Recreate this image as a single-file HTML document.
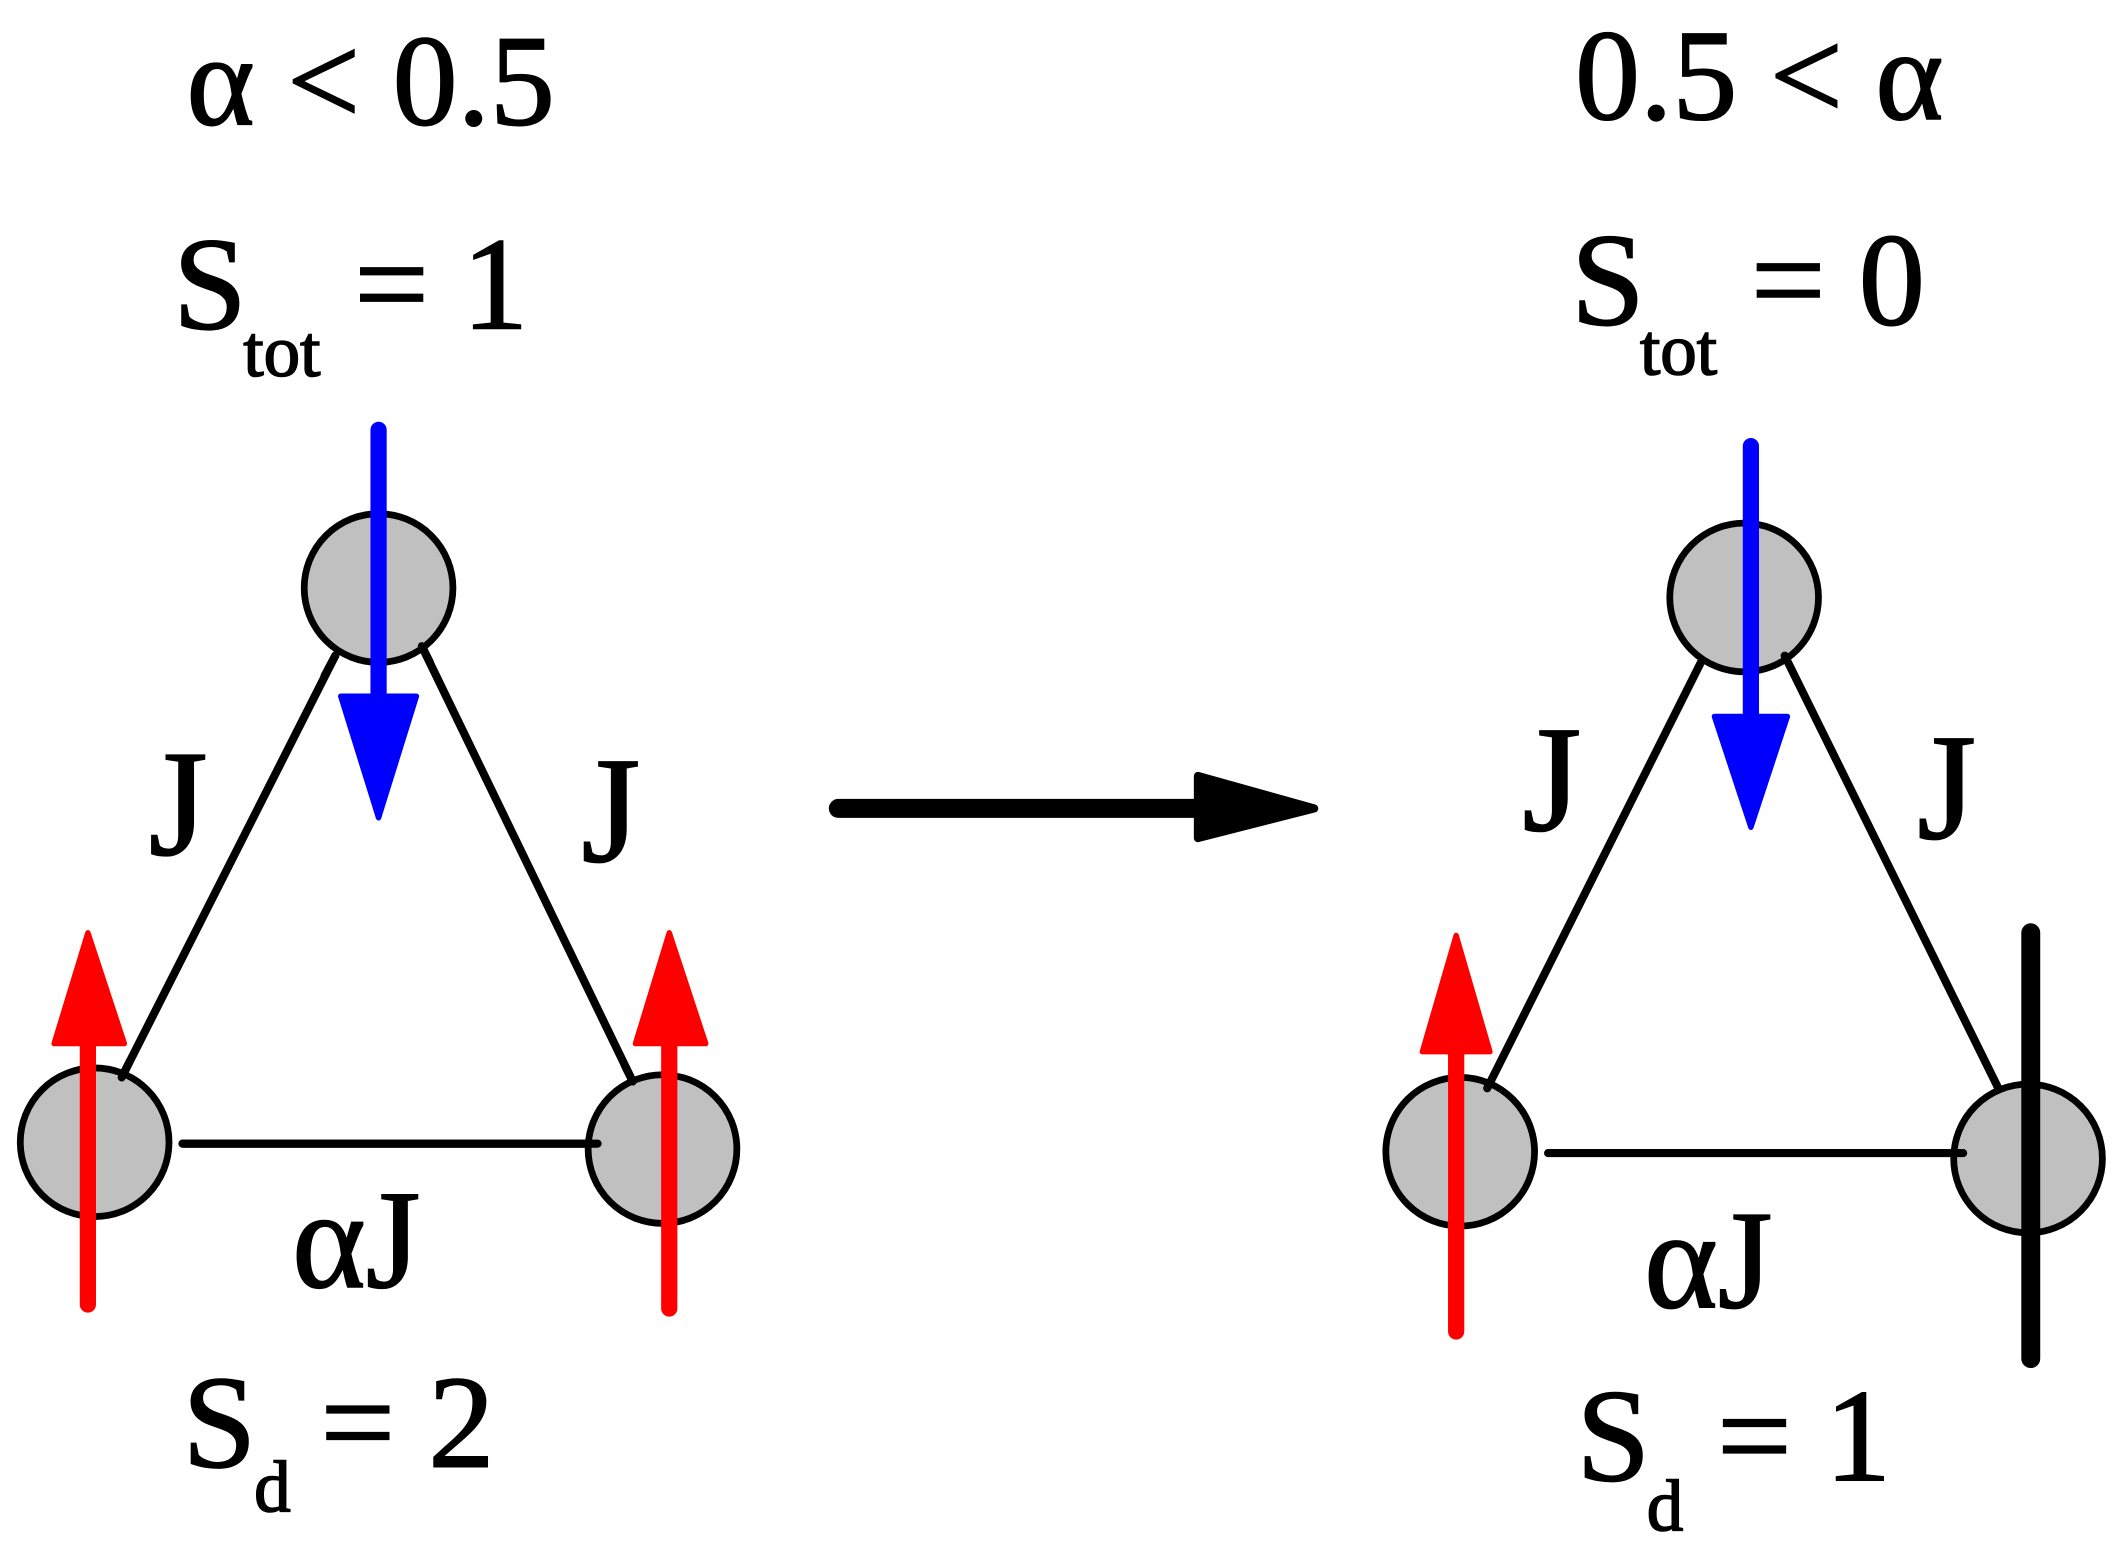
<!DOCTYPE html>
<html><head><meta charset="utf-8"><style>
html,body{margin:0;padding:0;background:#fff;}
svg{display:block;}
text{font-family:"Liberation Serif",serif;fill:#000;stroke:#000;stroke-width:1.2;}
</style></head><body>
<svg width="2120" height="1560" viewBox="0 0 1568 1154" preserveAspectRatio="none" xmlns="http://www.w3.org/2000/svg">
<!-- Left -->
<text x="138" y="92" font-size="96">α &lt; 0.5</text>
<text x="128" y="243" font-size="98">S</text>
<text x="180" y="278" font-size="54">tot</text>
<text x="262" y="243" font-size="98">= 1</text>
<g stroke="#000" stroke-width="6" stroke-linecap="round">
<line x1="248" y1="485" x2="90" y2="797"/>
<line x1="312" y1="478" x2="468" y2="800"/>
<line x1="135" y1="846" x2="442" y2="846"/>
</g>
<g fill="#c0c0c0" stroke="#000" stroke-width="5">
<circle cx="280" cy="435" r="55"/>
<circle cx="70" cy="845" r="55"/>
<circle cx="490" cy="850" r="55"/>
</g>
<g stroke="#000" stroke-width="6" stroke-linecap="round">
<line x1="248" y1="485" x2="240" y2="500"/>
<line x1="312" y1="478" x2="318" y2="490"/>
<line x1="90" y1="797" x2="96" y2="785"/>
<line x1="468" y1="800" x2="462" y2="788"/>
<line x1="135" y1="846" x2="442" y2="846"/>
</g>
<line x1="280" y1="318" x2="280" y2="520" stroke="#0000ff" stroke-width="12" stroke-linecap="round"/>
<polygon points="252,515 308,515 280,605" fill="#0000ff" stroke="#0000ff" stroke-width="4" stroke-linejoin="round"/>
<line x1="65" y1="965" x2="65" y2="765" stroke="#ff0000" stroke-width="12" stroke-linecap="round"/>
<polygon points="40,772 92,772 65,690" fill="#ff0000" stroke="#ff0000" stroke-width="4" stroke-linejoin="round"/>
<line x1="495" y1="968" x2="495" y2="765" stroke="#ff0000" stroke-width="12" stroke-linecap="round"/>
<polygon points="470,772 522,772 495,690" fill="#ff0000" stroke="#ff0000" stroke-width="4" stroke-linejoin="round"/>
<text x="110" y="632" font-size="112">J</text>
<text x="430" y="637" font-size="112">J</text>
<text x="216" y="952" font-size="104">αJ</text>
<text x="135" y="1085" font-size="98">S</text>
<text x="188" y="1118" font-size="54">d</text>
<text x="237" y="1085" font-size="98">= 2</text>
<!-- Big arrow -->
<line x1="620" y1="598" x2="890" y2="598" stroke="#000" stroke-width="14" stroke-linecap="round"/>
<polygon points="886,574 972,598 886,620" fill="#000" stroke="#000" stroke-width="6" stroke-linejoin="round"/>
<!-- Right -->
<text x="1165" y="88" font-size="96">0.5 &lt; α</text>
<text x="1162" y="240" font-size="98">S</text>
<text x="1213" y="277" font-size="54">tot</text>
<text x="1295" y="240" font-size="98">= 0</text>
<g fill="#c0c0c0" stroke="#000" stroke-width="5">
<circle cx="1290" cy="442" r="55"/>
<circle cx="1080" cy="852" r="55"/>
<circle cx="1500" cy="857" r="55"/>
</g>
<g stroke="#000" stroke-width="6" stroke-linecap="round">
<line x1="1258" y1="490" x2="1100" y2="805"/>
<line x1="1320" y1="485" x2="1478" y2="805"/>
<line x1="1145" y1="853" x2="1452" y2="853"/>
</g>
<line x1="1295" y1="330" x2="1295" y2="535" stroke="#0000ff" stroke-width="12" stroke-linecap="round"/>
<polygon points="1268,530 1322,530 1295,612" fill="#0000ff" stroke="#0000ff" stroke-width="4" stroke-linejoin="round"/>
<line x1="1077" y1="985" x2="1077" y2="770" stroke="#ff0000" stroke-width="12" stroke-linecap="round"/>
<polygon points="1052,778 1102,778 1077,692" fill="#ff0000" stroke="#ff0000" stroke-width="4" stroke-linejoin="round"/>
<line x1="1502" y1="690" x2="1502" y2="1005" stroke="#000" stroke-width="14" stroke-linecap="round"/>
<text x="1126" y="614" font-size="112">J</text>
<text x="1418" y="620" font-size="112">J</text>
<text x="1216" y="967" font-size="104">αJ</text>
<text x="1166" y="1095" font-size="98">S</text>
<text x="1218" y="1132" font-size="54">d</text>
<text x="1270" y="1095" font-size="98">= 1</text>
</svg>
</body></html>
